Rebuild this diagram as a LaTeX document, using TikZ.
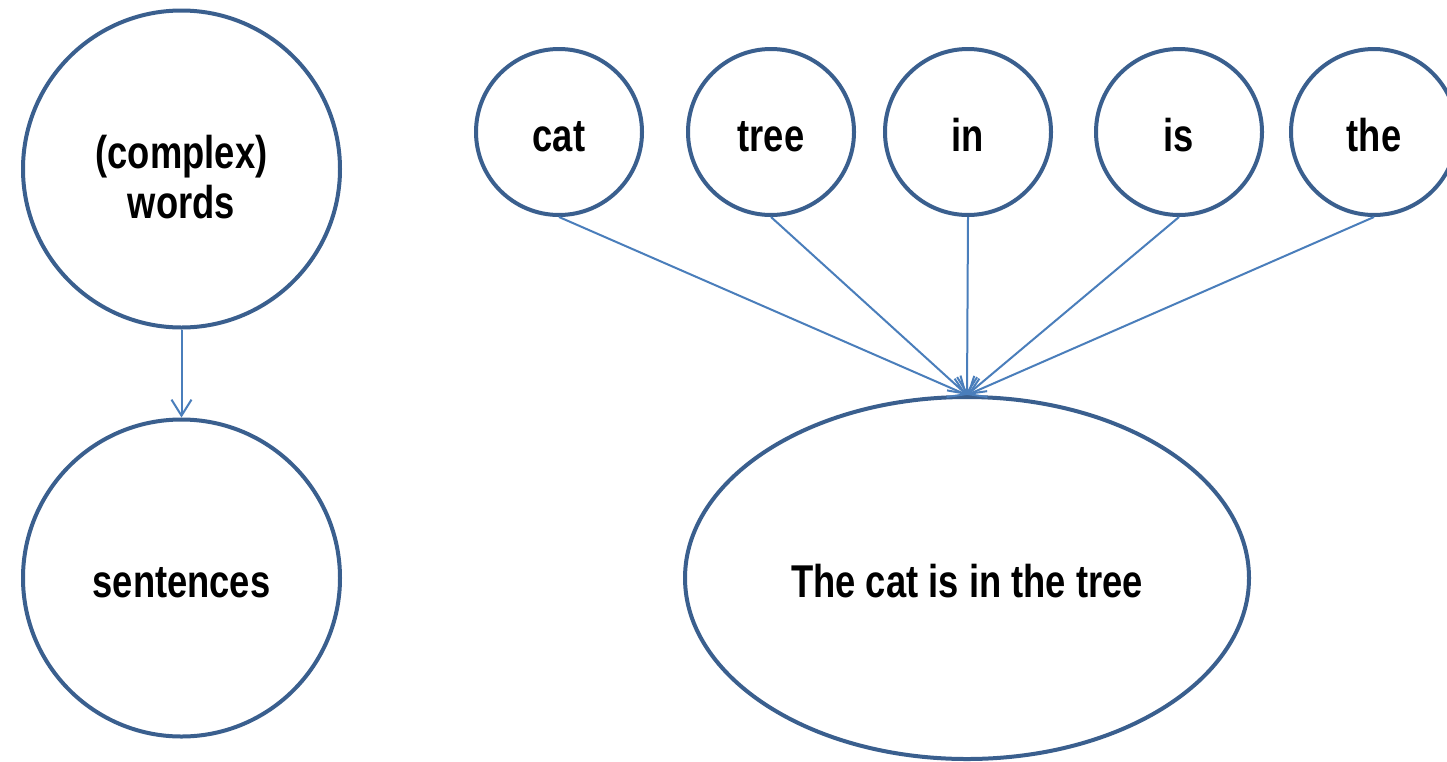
\documentclass[tikz,border=0pt]{standalone}
\usepackage{fontspec}
\setmainfont{Liberation Sans}[FakeStretch=0.79]
\usetikzlibrary{shapes.geometric,arrows.meta}
\definecolor{ringblue}{HTML}{3A5F8E}
\definecolor{lineblue}{HTML}{4A7EBB}
\tikzset{
  ring/.style={circle, draw=ringblue, line width=4pt, inner sep=0pt, align=center,
    font=\fontsize{46}{50}\selectfont\bfseries, text height=39pt, text depth=0pt},
  bigring/.style={ring, minimum size=317pt},
  smallring/.style={ring, minimum size=166pt},
  ovalring/.style={ellipse, draw=ringblue, line width=4pt, inner sep=0pt,
    minimum width=564pt, minimum height=362pt, font=\fontsize{46}{50}\selectfont\bfseries,
    text height=39pt, text depth=0pt},
  link/.style={draw=lineblue, line width=2pt, -{Straight Barb[length=16pt,width=20pt]}}
}
\begin{document}
\begin{tikzpicture}[x=1pt,y=-1pt]
\useasboundingbox (0,0) rectangle (1447,761);
\clip (0,0) rectangle (1447,761);
\fill[white] (0,0) rectangle (1447,761);
\node[bigring, text height=98pt] (words) at (181.5,169) {(complex)\\words};
\node[bigring] (sent) at (181.5,578) {sentences};
\node[smallring] (cat) at (559,132) {cat};
\node[smallring] (tree) at (771,132) {tree};
\node[smallring] (in) at (968,132) {in};
\node[smallring] (is) at (1179,132) {is};
\node[smallring] (the) at (1374,132) {the};
\node[ovalring] (sentence) at (967,578) {The cat is in the tree};
\draw[link] (words.south) -- (sent.north);
\foreach \n in {cat,tree,in,is,the}
  \draw[link] (\n.south) -- (sentence.north);
\end{tikzpicture}
\end{document}
